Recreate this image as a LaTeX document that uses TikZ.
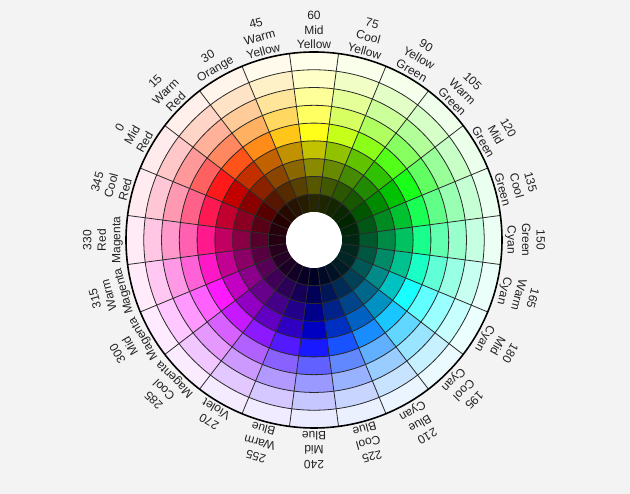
\documentclass[tikz,border=0pt]{standalone}
\usepackage{fontspec}
\setmainfont{Liberation Sans}
\definecolor{bgcol}{HTML}{F3F3F3}
\definecolor{gridcol}{HTML}{2A2A2A}
\definecolor{txtcol}{HTML}{222222}
\tikzset{
  lbl/.style={anchor=south, inner sep=0pt, align=center, text=txtcol,
    font=\fontsize{12}{14.5}\selectfont},
  gridline/.style={draw=gridcol, line width=0.8pt},
  rimline/.style={draw=black, line width=1.6pt},
}
\begin{document}
\begin{tikzpicture}[x=1pt,y=1pt]
\fill[bgcol] (-314,-254) rectangle (316,240);
\useasboundingbox (-314,-254) rectangle (316,240);
\def\R{188}
\def\Rh{28}
\pgfmathsetmacro\w{(\R-\Rh)/9}
% colour cells
\foreach \h in {0,15,...,345} {
  \pgfmathsetmacro\a{150-\h}
  \convertcolorspec{Hsb}{\h,1,1}{rgb}\myrgbspec
  \definecolor{hc}{rgb}{\myrgbspec}
  \foreach \k/\mix in {1/hc!8!white, 2/hc!22!white, 3/hc!40!white, 4/hc!62!white, 5/hc!90!white, 6/hc!76!black, 7/hc!54!black, 8/hc!34!black, 9/hc!15!black} {
    \pgfmathsetmacro\ro{\R-(\k-1)*\w}
    \pgfmathsetmacro\ri{\ro-\w}
    \fill[\mix, draw=\mix, line width=0.3pt] (\a-7.5:\ri) arc[start angle=\a-7.5, end angle=\a+7.5, radius=\ri]
      -- (\a+7.5:\ro) arc[start angle=\a+7.5, end angle=\a-7.5, radius=\ro] -- cycle;
  }
}
% ring lines
\foreach \k in {1,...,8} {
  \pgfmathsetmacro\rr{\R-\k*\w}
  \draw[gridline] (0,0) circle[radius=\rr];
}
% radial lines
\foreach \b in {7.5,22.5,...,352.5} {
  \draw[gridline] (\b:\Rh) -- (\b:\R);
}
\draw[rimline] (0,0) circle[radius=\R];
\node[circle, fill=white, minimum size=56pt, inner sep=0pt] (hole) at (0,0) {};
% labels
\foreach \h/\t in {0/{0\\Mid\\Red}, 15/{15\\Warm\\Red}, 30/{30\\Orange}, 45/{45\\Warm\\Yellow},
  60/{60\\Mid\\Yellow}, 75/{75\\Cool\\Yellow}, 90/{90\\Yellow\\Green}, 105/{105\\Warm\\Green},
  120/{120\\Mid\\Green}, 135/{135\\Cool\\Green}, 150/{150\\Green\\Cyan}, 165/{165\\Warm\\Cyan},
  180/{180\\Mid\\Cyan}, 195/{195\\Cool\\Cyan}, 210/{210\\Blue\\Cyan}, 225/{225\\Cool\\Blue},
  240/{240\\Mid\\Blue}, 255/{255\\Warm\\Blue}, 270/{270\\Violet}, 285/{285\\Cool\\Magenta},
  300/{300\\Mid\\Magenta}, 315/{315\\Warm\\Magenta}, 330/{330\\Red\\Magenta}, 345/{345\\Cool\\Red}} {
  \pgfmathsetmacro\a{150-\h}
  \node[lbl, rotate=\a-90] (l\h) at (\a:\R+3) {\t};
}
\end{tikzpicture}
\end{document}
